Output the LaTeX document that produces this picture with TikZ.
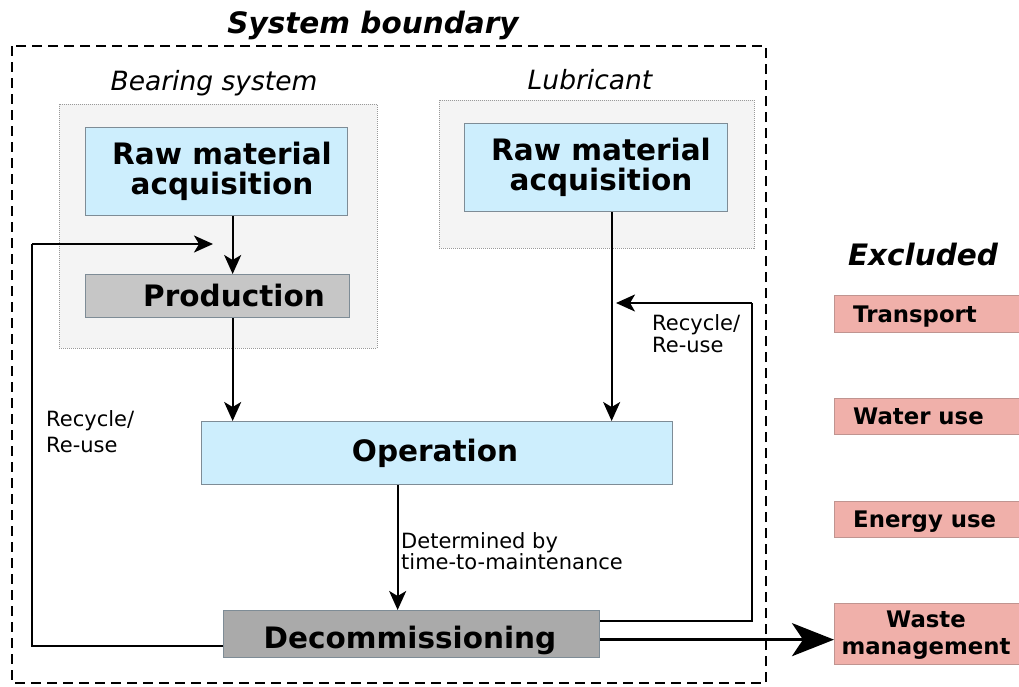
\documentclass[tikz,border=0pt]{standalone}
\usepackage{fontspec}
\setmainfont{DejaVu Sans}
\usetikzlibrary{arrows.meta,calc}
\definecolor{bluefill}{HTML}{CDEEFD}
\definecolor{blueline}{HTML}{7E8C96}
\definecolor{contfill}{HTML}{F4F4F4}
\definecolor{contline}{HTML}{999999}
\definecolor{prodfill}{HTML}{C6C6C6}
\definecolor{decfill}{HTML}{AAAAAA}
\definecolor{pinkfill}{HTML}{F0B0AA}
\definecolor{pinkline}{HTML}{C09490}
\begin{document}
\begin{tikzpicture}[x=1pt,y=-1pt,
  container/.style={draw=contline, densely dotted, line width=1pt, fill=contfill},
  stagebox/.style={draw=blueline, line width=1.3pt, inner sep=0pt, anchor=north west},
  boldtxt/.style={font=\fontsize{29.5}{30}\selectfont\bfseries, align=center, inner sep=0pt},
  exctxt/.style={font=\fontsize{22.8}{27}\selectfont\bfseries, align=center, inner sep=0pt},
  smalltxt/.style={font=\fontsize{21}{23}\selectfont, align=left, inner sep=0pt, anchor=north west},
  headtxt/.style={font=\fontsize{29.5}{30}\selectfont\bfseries\itshape, inner sep=0pt, anchor=base},
  subtxt/.style={font=\fontsize{26.5}{28}\selectfont\itshape, inner sep=0pt, anchor=base},
  arr/.style={line width=2.2pt, -{Stealth[length=19pt,width=17pt,inset=5pt]}},
  plain/.style={line width=2.2pt},
  bigarr/.style={line width=3.4pt, -{Stealth[length=42pt,width=33pt,inset=11pt]}}
]
\useasboundingbox (0,0) rectangle (1019,686);

% system boundary
\draw[line width=2.5pt, dash pattern=on 10pt off 6pt] (12,46) rectangle (766,683);
\node[headtxt] (sbt) at (373,33) {System boundary};

% containers
\draw[container] (59,104) rectangle (377,348);
\draw[container] (439,100) rectangle (754,248);
\node[subtxt] (bst) at (214,90) {Bearing system};
\node[subtxt] (lut) at (590,89) {Lubricant};

% boxes
\node[stagebox, fill=bluefill, minimum width=262pt, minimum height=88pt] (bra) at (85,127) {};
\node[stagebox, fill=prodfill, minimum width=264pt, minimum height=43pt] (prod) at (85,274) {};
\node[stagebox, fill=bluefill, minimum width=263pt, minimum height=88pt] (lra) at (464,123) {};
\node[stagebox, fill=bluefill, minimum width=471pt, minimum height=63pt] (op) at (201,421) {};
\node[stagebox, fill=decfill, minimum width=376pt, minimum height=47pt] (dec) at (223,610) {};

\node[boldtxt] (brat) at (222,171) {Raw material\\acquisition};
\node[boldtxt] (prodt) at (234,295.5) {Production};
\node[boldtxt] (lrat) at (601,167) {Raw material\\acquisition};
\node[boldtxt] (opt) at (435,453) {Operation};
\node[boldtxt] (dect) at (410,640) {Decommissioning};

% excluded
\node[headtxt] (ext) at (923,265) {Excluded};
\node[stagebox, draw=pinkline, fill=pinkfill, minimum width=190pt, minimum height=37pt] (tra) at (834,295) {};
\node[stagebox, draw=pinkline, fill=pinkfill, minimum width=190pt, minimum height=36pt] (wat) at (834,398) {};
\node[stagebox, draw=pinkline, fill=pinkfill, minimum width=190pt, minimum height=36pt] (ene) at (834,501) {};
\node[stagebox, draw=pinkline, fill=pinkfill, minimum width=190pt, minimum height=61pt] (was) at (834,603) {};
\node[exctxt, anchor=west] (trat) at (853,316.5) {Transport};
\node[exctxt, anchor=west] (watt) at (853,416) {Water use};
\node[exctxt, anchor=west] (enet) at (853,521.5) {Energy use};
\node[exctxt] (wast) at (926,635) {Waste\\management};

% labels
\node[smalltxt, font=\fontsize{21}{26}\selectfont] (rl1) at (46,410) {Recycle/\\Re-use};
\node[smalltxt, font=\fontsize{21}{22}\selectfont] (rl2) at (652,314) {Recycle/\\Re-use};
\node[smalltxt, font=\fontsize{21}{21.5}\selectfont] (dl) at (401,532) {Determined by\\time-to-maintenance};

% connectors
\coordinate (lcorner) at (32,244);
\coordinate (ltip) at (213,244);
\coordinate (rcorner) at (752,303);
\coordinate (rtip) at (616,303);

\draw[arr] ([xshift=16pt]bra.south) -- ([xshift=15pt]prod.north);
\draw[arr] ([xshift=15pt]prod.south) -- ([xshift=15pt]prod.south |- op.north);
\draw[arr] ([xshift=15.5pt]lra.south) -- ([xshift=15.5pt]lra.south |- op.north);
\draw[arr] ([xshift=-14pt]dec.north |- op.south) -- ([xshift=-14pt]dec.north);
\draw[plain, line width=1.9pt] ([yshift=-11.5pt]dec.west) -| (lcorner);
\draw[arr, line width=1.9pt] (lcorner) -- (ltip);
\draw[plain] ([yshift=13.5pt]dec.east) -| (rcorner);
\draw[arr] (rcorner) -- (rtip);
\draw[bigarr] ([yshift=-5.5pt]dec.east) -- ([yshift=-5.5pt]dec.east -| was.west);
\end{tikzpicture}
\end{document}
